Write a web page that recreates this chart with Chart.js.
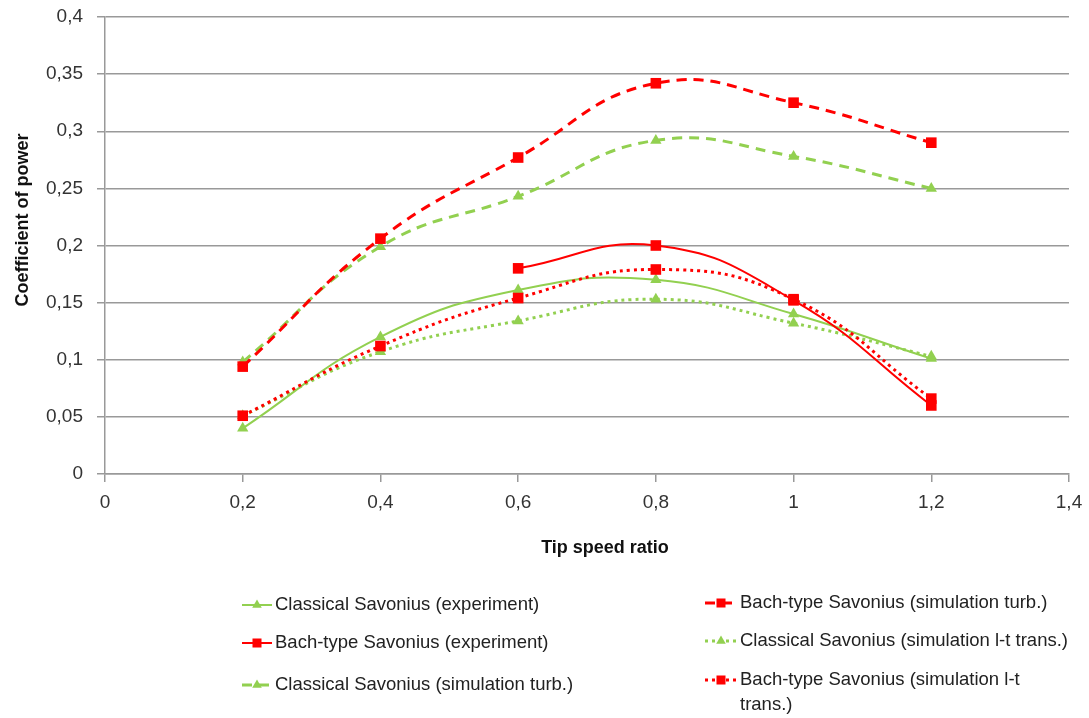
<!DOCTYPE html>
<html>
<head>
<meta charset="utf-8">
<script src="https://cdn.jsdelivr.net/npm/chart.js@4.4.1/dist/chart.umd.min.js"></script>
<style>
html,body{margin:0;padding:0;background:#fff;}
#wrap{width:1089px;height:718px;position:relative;}
</style>
</head>
<body>
<div id="wrap"><canvas id="c" width="1089" height="718"></canvas></div>
<script>
// ---- data ----
const tsr = [0.2, 0.4, 0.6, 0.8, 1.0, 1.2];
const classicalExp   = [0.040, 0.120, 0.161, 0.170, 0.140, 0.101];
const bachExp        = [null,  null,  0.180, 0.200, 0.152, 0.060];
const classicalTurb  = [0.098, 0.199, 0.243, 0.292, 0.278, 0.250];
const bachTurb       = [0.094, 0.206, 0.277, 0.342, 0.325, 0.290];
const classicalLT    = [0.051, 0.107, 0.134, 0.153, 0.132, 0.103];
const bachLT         = [0.051, 0.112, 0.154, 0.179, 0.153, 0.066];
const seriesNames = [
  'Classical Savonius (experiment)',
  'Bach-type Savonius (experiment)',
  'Classical Savonius (simulation turb.)',
  'Bach-type Savonius (simulation turb.)',
  'Classical Savonius (simulation l-t trans.)',
  ['Bach-type Savonius (simulation l-t', 'trans.)']
];
const xTickLabels = ['0', '0,2', '0,4', '0,6', '0,8', '1', '1,2', '1,4'];
const yTickLabels = ['0', '0,05', '0,1', '0,15', '0,2', '0,25', '0,3', '0,35', '0,4'];
const xTitle = 'Tip speed ratio';
const yTitle = 'Coefficient of power';

const GREEN = '#92D050';
const RED = '#FF0000';
const FONT = "'Liberation Sans', Arial, sans-serif";

function pts(ys){
  const out = [];
  ys.forEach((y,i)=>{ if (y !== null) out.push({x: tsr[i], y: y}); });
  return out;
}

function ds(label, ys, color, style, order){
  const isTri = color === GREEN;
  const dash = style === 'dash' ? [10, 7] : style === 'dot' ? [3, 4] : [];
  return {
    label: Array.isArray(label) ? label.join(' ') : label,
    legendLines: Array.isArray(label) ? label : [label],
    data: pts(ys),
    borderColor: color,
    backgroundColor: color,
    borderWidth: style === 'solid' ? 2 : 3,
    borderDash: dash,
    borderCapStyle: 'butt',
    pointStyle: isTri ? 'triangle' : 'rect',
    pointRadius: isTri ? 6.5 : 7.5,
    pointBorderWidth: 0,
    pointBackgroundColor: color,
    pointBorderColor: color,
    tension: 0.45,
    fill: false,
    order: order
  };
}

const datasets = [
  ds(seriesNames[0], classicalExp, GREEN, 'solid', 5),
  ds(seriesNames[1], bachExp, RED, 'solid', 2),
  ds(seriesNames[2], classicalTurb, GREEN, 'dash', 4),
  ds(seriesNames[3], bachTurb, RED, 'dash', 1),
  ds(seriesNames[4], classicalLT, GREEN, 'dot', 6),
  ds(seriesNames[5], bachLT, RED, 'dot', 3)
];

// custom legend in two columns + axis titles
const legendPlugin = {
  id: 'twoColLegend',
  beforeDraw(chart){
    const ctx = chart.ctx;
    ctx.save();
    ctx.fillStyle = '#fff';
    ctx.fillRect(0, 0, chart.width, chart.height);
    ctx.restore();
  },
  afterDraw(chart){
    const ctx = chart.ctx;
    // axis titles
    ctx.save();
    ctx.fillStyle = '#111';
    ctx.font = 'bold 18px ' + FONT;
    ctx.textAlign = 'center';
    ctx.textBaseline = 'middle';
    ctx.fillText(xTitle, 605, 548);
    ctx.translate(23, 220);
    ctx.rotate(-Math.PI / 2);
    ctx.fillText(yTitle, 0, 0);
    ctx.restore();

    const cols = [
      {sx: 242, tx: 275, rows: [605, 643, 685], idx: [0, 1, 2]},
      {sx: 705, tx: 740, rows: [603, 641, 680], idx: [3, 4, 5]}
    ];
    ctx.save();
    ctx.font = '18.5px ' + FONT;
    ctx.textBaseline = 'middle';
    ctx.textAlign = 'left';
    cols.forEach(col => {
      col.idx.forEach((di, r) => {
        const d = chart.data.datasets[di];
        const y = col.rows[r];
        const x0 = col.sx, x1 = col.tx - 3;
        ctx.save();
        ctx.strokeStyle = d.borderColor;
        ctx.fillStyle = d.borderColor;
        ctx.lineWidth = d.borderWidth;
        ctx.setLineDash(d.borderDash);
        ctx.beginPath(); ctx.moveTo(x0, y); ctx.lineTo(x1, y); ctx.stroke();
        ctx.setLineDash([]);
        Chart.helpers.drawPoint(ctx, {pointStyle: d.pointStyle, radius: d.pointRadius * 0.85, borderWidth: 0}, (x0 + x1) / 2, y);
        ctx.restore();
        ctx.fillStyle = '#222';
        d.legendLines.forEach((t, k) => {
          ctx.fillText(t, col.tx, y + k * 25);
        });
      });
    });
    ctx.restore();
  }
};

new Chart(document.getElementById('c'), {
  type: 'line',
  data: {datasets: datasets},
  options: {
    responsive: false,
    animation: false,
    devicePixelRatio: 1,
    layout: {padding: {top: 17, right: 20, left: 0, bottom: 144}},
    plugins: {legend: {display: false}, tooltip: {enabled: false}},
    scales: {
      x: {
        type: 'linear', min: 0, max: 1.4,
        afterFit(s){ s.height = 100; s.paddingLeft = 0; s.paddingRight = 0; },
        ticks: {
          stepSize: 0.2,
          color: '#333',
          font: {family: FONT, size: 19},
          padding: 9,
          maxRotation: 0,
          callback: (v, i) => xTickLabels[i]
        },
        grid: {drawOnChartArea: false, color: '#999', lineWidth: 1.5, tickLength: 8},
        border: {color: '#999', width: 1.5},
        title: {display: false}
      },
      y: {
        min: 0, max: 0.4,
        afterFit(s){ s.width = 105; s.paddingTop = 0; s.paddingBottom = 0; },
        ticks: {
          stepSize: 0.05,
          color: '#333',
          font: {family: FONT, size: 19},
          padding: 14,
          callback: (v, i) => yTickLabels[i]
        },
        grid: {color: '#999', lineWidth: 1.5, tickLength: 8},
        border: {color: '#999', width: 1.5},
        title: {display: false}
      }
    }
  },
  plugins: [legendPlugin]
});
</script>
</body>
</html>
